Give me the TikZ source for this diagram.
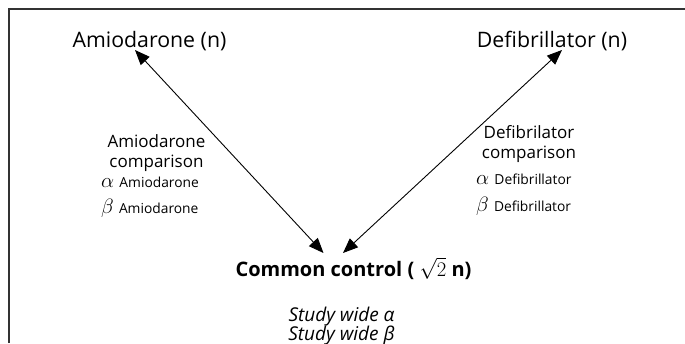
\documentclass[tikz,border=0pt]{standalone}
\usepackage{fontspec}
\setmainfont{Open Sans}
\usetikzlibrary{arrows.meta}
\newcommand{\smtxt}{\fontsize{13.8}{16}\selectfont}
\begin{document}
\begin{tikzpicture}[x=1pt,y=-1pt,
  arr/.style={line width=0.9pt,{Triangle[length=15pt,width=12pt]}-{Triangle[length=15pt,width=12pt]}},
  txt/.style={inner sep=0pt,anchor=base},
  top/.style={txt,font=\fontsize{21.3}{24}\selectfont},
  lbl/.style={txt,font=\fontsize{17}{20}\selectfont},
  greek/.style={txt,anchor=base west,font=\fontsize{20}{24}\selectfont}]
\useasboundingbox (0,0) rectangle (685,343);
\draw[line width=1.6pt,black!80] (9,343) -- (9,9) -- (685,9);
\node[top] (amio) at (149.5,47) {Amiodarone (n)};
\node[top] (defib) at (552,47) {Defibrillator (n)};
\node[txt,font=\fontsize{20}{24}\selectfont\bfseries] (ctrl) at (353.5,276) {Common control ( {\mdseries$\sqrt{2}$} n)};
\node[lbl] (amiol1) at (156.5,147) {Amiodarone};
\node[lbl] (amiol2) at (156.5,167) {comparison};
\node[greek] (amioa) at (101,187) {$\alpha$ {\smtxt Amiodarone}};
\node[greek] (amiob) at (101,213) {$\beta$ {\smtxt Amiodarone}};
\node[lbl] (defl1) at (529,138) {Defibrilator};
\node[lbl] (defl2) at (529,158) {comparison};
\node[greek] (defiba) at (476,184) {$\alpha$ {\smtxt Defibrillator}};
\node[greek] (defibb) at (476,211) {$\beta$ {\smtxt Defibrillator}};
\node[txt,font=\fontsize{19}{22}\selectfont\itshape] (sa) at (341.5,321.5) {Study wide α};
\node[txt,font=\fontsize{19}{22}\selectfont\itshape] (sb) at (341.5,340.5) {Study wide β};
\coordinate (a1) at ([xshift=-14.5pt,yshift=-3pt]amio.base);
\coordinate (d1) at ([xshift=10pt,yshift=-3pt]defib.base);
\coordinate (c1) at ([xshift=-30pt,yshift=23pt]ctrl.base);
\coordinate (c2) at ([xshift=-10.5pt,yshift=23pt]ctrl.base);
\draw[arr] (c1) -- (a1);
\draw[arr] (c2) -- (d1);
\end{tikzpicture}
\end{document}
